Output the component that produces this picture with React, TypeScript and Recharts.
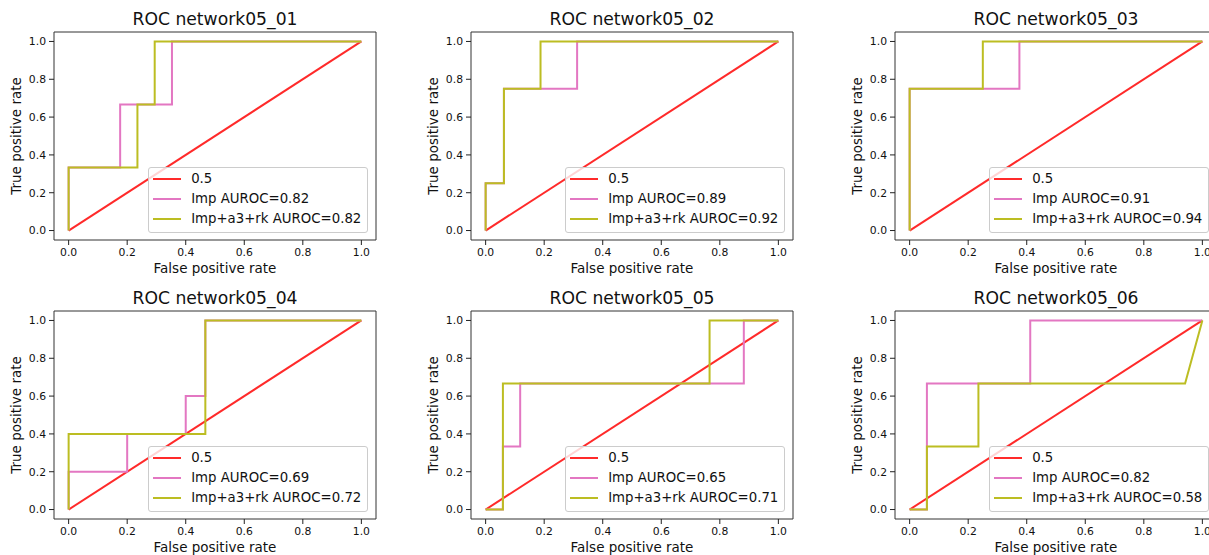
import React from 'react';
import { LineChart, Line, XAxis, YAxis, ReferenceArea } from 'recharts';

const panelNames = ['network05_01', 'network05_02', 'network05_03', 'network05_04', 'network05_05', 'network05_06'];
const impAuroc = [0.82, 0.89, 0.91, 0.69, 0.65, 0.82];
const combAuroc = [0.82, 0.92, 0.94, 0.72, 0.71, 0.58];
const axisTicks = [0, 0.2, 0.4, 0.6, 0.8, 1.0];

const chanceFpr = [0, 1];
const chanceTpr = [0, 1];

const imp01Fpr = [0, 0, 0.176, 0.176, 0.353, 0.353, 1];
const imp01Tpr = [0, 0.333, 0.333, 0.667, 0.667, 1, 1];
const comb01Fpr = [0, 0, 0.235, 0.235, 0.294, 0.294, 1];
const comb01Tpr = [0, 0.333, 0.333, 0.667, 0.667, 1, 1];

const imp02Fpr = [0, 0, 0.0625, 0.0625, 0.3125, 0.3125, 1];
const imp02Tpr = [0, 0.25, 0.25, 0.75, 0.75, 1, 1];
const comb02Fpr = [0, 0, 0.0625, 0.0625, 0.1875, 0.1875, 1];
const comb02Tpr = [0, 0.25, 0.25, 0.75, 0.75, 1, 1];

const imp03Fpr = [0, 0, 0.375, 0.375, 1];
const imp03Tpr = [0, 0.75, 0.75, 1, 1];
const comb03Fpr = [0, 0, 0.25, 0.25, 1];
const comb03Tpr = [0, 0.75, 0.75, 1, 1];

const imp04Fpr = [0, 0, 0.2, 0.2, 0.4, 0.4, 0.467, 0.467, 1];
const imp04Tpr = [0, 0.2, 0.2, 0.4, 0.4, 0.6, 0.6, 1, 1];
const comb04Fpr = [0, 0, 0.467, 0.467, 1];
const comb04Tpr = [0, 0.4, 0.4, 1, 1];

const imp05Fpr = [0, 0.059, 0.059, 0.118, 0.118, 0.882, 0.882, 1];
const imp05Tpr = [0, 0, 0.333, 0.333, 0.667, 0.667, 1, 1];
const comb05Fpr = [0, 0.059, 0.059, 0.765, 0.765, 1];
const comb05Tpr = [0, 0, 0.667, 0.667, 1, 1];

const imp06Fpr = [0, 0.059, 0.059, 0.412, 0.412, 1];
const imp06Tpr = [0, 0, 0.667, 0.667, 1, 1];
const comb06Fpr = [0, 0.059, 0.059, 0.235, 0.235, 0.941, 1];
const comb06Tpr = [0, 0, 0.333, 0.333, 0.667, 0.667, 1];

const impCurves = [
  [imp01Fpr, imp01Tpr], [imp02Fpr, imp02Tpr], [imp03Fpr, imp03Tpr],
  [imp04Fpr, imp04Tpr], [imp05Fpr, imp05Tpr], [imp06Fpr, imp06Tpr],
];
const combCurves = [
  [comb01Fpr, comb01Tpr], [comb02Fpr, comb02Tpr], [comb03Fpr, comb03Tpr],
  [comb04Fpr, comb04Tpr], [comb05Fpr, comb05Tpr], [comb06Fpr, comb06Tpr],
];

const RED = '#ff2a2a';
const PINK = '#e377c2';
const OLIVE = '#bcbd22';
const FONT = '"DejaVu Sans", sans-serif';

const PLOT_W = 322;
const PLOT_H = 208;
const Y_AXIS_W = 75;
const TOP = 4;
const RIGHT = 6;
const X_AXIS_H = 18;
const BOTTOM = 22;
const CHART_W = Y_AXIS_W + PLOT_W + RIGHT;
const CHART_H = TOP + PLOT_H + X_AXIS_H + BOTTOM;

const colLefts = [54, 471, 895];
const rowTops = [32, 311];

const toPoints = (fpr: number[], tpr: number[]) => fpr.map((x, i) => ({ x, y: tpr[i] }));
const fmt = (v: number) => v.toFixed(1);

const LegendBox = ({ items }: { items: { label: string; color: string }[] }) => (
  <div
    style={{
      position: 'absolute',
      right: CHART_W - (Y_AXIS_W + PLOT_W - 7.7),
      bottom: CHART_H - (TOP + PLOT_H - 6.7),
      background: 'rgba(255,255,255,0.8)',
      border: '1px solid #cccccc',
      borderRadius: 3,
      padding: '1px 6px 3px 4px',
      fontSize: 13.3,
      lineHeight: '20px',
      whiteSpace: 'nowrap',
      color: '#111',
    }}
  >
    {items.map((it) => (
      <div key={it.label} style={{ display: 'flex', alignItems: 'center', height: 20 }}>
        <span style={{ display: 'inline-block', width: 28, height: 2, background: it.color, marginRight: 10 }} />
        <span>{it.label}</span>
      </div>
    ))}
  </div>
);

const RocPanel = ({ idx }: { idx: number }) => {
  const left = colLefts[idx % 3] - Y_AXIS_W;
  const top = rowTops[Math.floor(idx / 3)] - TOP;
  const imp = toPoints(impCurves[idx][0], impCurves[idx][1]);
  const comb = toPoints(combCurves[idx][0], combCurves[idx][1]);
  const chance = toPoints(chanceFpr, chanceTpr);
  const legendItems = [
    { label: '0.5', color: RED },
    { label: `Imp AUROC=${impAuroc[idx].toFixed(2)}`, color: PINK },
    { label: `Imp+a3+rk AUROC=${combAuroc[idx].toFixed(2)}`, color: OLIVE },
  ];

  return (
    <div style={{ position: 'absolute', left, top, width: CHART_W, height: CHART_H }}>
      <div
        style={{
          position: 'absolute',
          left: Y_AXIS_W,
          top: TOP - 23,
          width: PLOT_W,
          textAlign: 'center',
          fontSize: 17.2,
          lineHeight: '20px',
          color: '#111',
        }}
      >
        ROC {panelNames[idx]}
      </div>
      <LineChart
        width={CHART_W}
        height={CHART_H}
        margin={{ top: TOP, right: RIGHT, left: 0, bottom: BOTTOM }}
        style={{ fontFamily: FONT }}
      >
        <XAxis
          type="number"
          dataKey="x"
          domain={[-0.05, 1.05]}
          ticks={axisTicks}
          tickFormatter={fmt}
          height={X_AXIS_H}
          axisLine={false}
          tickSize={5}
          tickMargin={3}
          tickLine={{ stroke: '#222' }}
          tick={{ fill: '#111', fontSize: 10.8 }}
          allowDataOverflow
          label={{ value: 'False positive rate', position: 'bottom', offset: 5, fill: '#111', fontSize: 13.5 }}
        />
        <YAxis
          type="number"
          dataKey="y"
          domain={[-0.05, 1.05]}
          ticks={axisTicks}
          tickFormatter={fmt}
          width={Y_AXIS_W}
          axisLine={false}
          tickSize={5}
          tickMargin={3}
          tickLine={{ stroke: '#222' }}
          tick={{ fill: '#111', fontSize: 10.8 }}
          allowDataOverflow
          label={{ value: 'True positive rate', angle: -90, position: 'center', fill: '#111', fontSize: 13.5 }}
        />
        <ReferenceArea x1={-0.05} x2={1.05} y1={-0.05} y2={1.05} stroke="#333" strokeWidth={1} fill="none" fillOpacity={0} />
        <Line data={chance} dataKey="y" type="linear" stroke={RED} strokeWidth={2} dot={false} isAnimationActive={false} />
        <Line data={imp} dataKey="y" type="linear" stroke={PINK} strokeWidth={2} dot={false} isAnimationActive={false} />
        <Line data={comb} dataKey="y" type="linear" stroke={OLIVE} strokeWidth={2} dot={false} isAnimationActive={false} />
      </LineChart>
      <LegendBox items={legendItems} />
    </div>
  );
};

export default function App() {
  return (
    <div
      style={{
        position: 'absolute',
        left: 0,
        top: 0,
        width: 1209,
        height: 555,
        overflow: 'hidden',
        background: '#fff',
        fontFamily: FONT,
      }}
    >
      {[0, 1, 2, 3, 4, 5].map((i) => (
        <RocPanel key={i} idx={i} />
      ))}
    </div>
  );
}
